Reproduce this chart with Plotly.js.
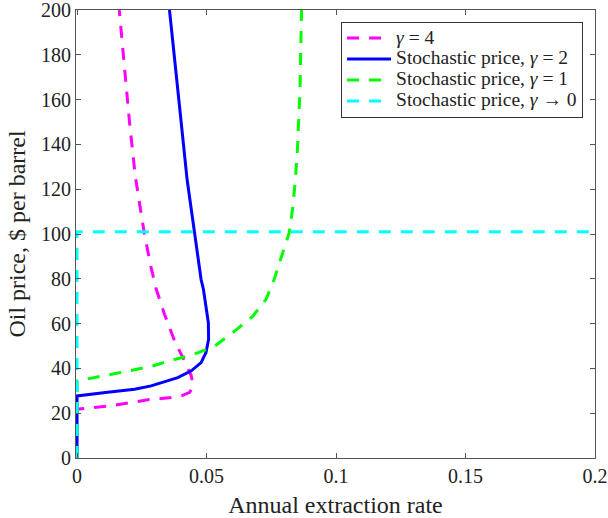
<!DOCTYPE html>
<html>
<head>
<meta charset="utf-8">
<script src="https://cdn.plot.ly/plotly-3.0.1.min.js"></script>
<style>
  html, body { margin: 0; padding: 0; background: #fff; }
  #chart { width: 608px; height: 518px; }
</style>
</head>
<body>
<div id="chart"></div>
<script>
// gamma = 4 (magenta, dashed)
const g4_x = [0, 0, 0.0132, 0.0274, 0.0364, 0.0402, 0.0435, 0.0447, 0.0445, 0.0441, 0.0415, 0.0377, 0.0338, 0.0306, 0.0286, 0.026, 0.0225, 0.0203, 0.0183, 0.0163];
const g4_y = [0, 21.8, 23.3, 26.0, 27.0, 27.7, 29.3, 32.0, 34.5, 36.7, 43.3, 52.2, 64.1, 75.3, 85.0, 100.0, 125.7, 149.5, 174.7, 200];

// Stochastic price, gamma = 2 (blue, solid)
const g2_x = [0, 0, 0.011, 0.0222, 0.0286, 0.0338, 0.0389, 0.0441, 0.0479, 0.0498, 0.0508, 0.0507, 0.0498, 0.0488, 0.0479, 0.0466, 0.0453, 0.0425, 0.0402, 0.0380, 0.0357];
const g2_y = [0, 27.7, 29.2, 30.7, 32.2, 34.0, 35.9, 38.9, 42.6, 47.1, 53.0, 60.4, 67.8, 75.3, 79.7, 90.0, 100.5, 124.3, 150.0, 175.0, 200];

// Stochastic price, gamma = 1 (green, dashed)
const g1_x = [0, 0, 0.0143, 0.0286, 0.0364, 0.0447, 0.053, 0.0607, 0.0678, 0.073, 0.0761, 0.0793, 0.0819, 0.0832, 0.0842, 0.0851, 0.0857, 0.0861, 0.0864, 0.0867];
const g1_y = [0, 34.4, 37.6, 40.9, 43.6, 46.1, 49.8, 56.5, 63.2, 70.9, 79.7, 91.8, 100.5, 110.9, 122.8, 137.6, 152.5, 164.4, 183.6, 200];

// Stochastic price, gamma -> 0 (cyan, dashed)
const g0_x = [0, 0, 0.2];
const g0_y = [0, 101, 101];

const xTickVals = [0, 0.05, 0.1, 0.15, 0.2];
const xTickText = ["0", "0.05", "0.1", "0.15", "0.2"];
const yTickVals = [0, 20, 40, 60, 80, 100, 120, 140, 160, 180, 200];

const LEG = (s) => '<span style="font-size:19.5px">' + s + '</span>';
const names = [
  LEG("<i>γ</i> = 4"),
  LEG("Stochastic price, <i>γ</i> = 2"),
  LEG("Stochastic price, <i>γ</i> = 1"),
  LEG("Stochastic price, <i>γ</i> → 0")
];

const DASH = "12px,10px";
const traces = [
  { x: g4_x, y: g4_y, name: names[0], mode: "lines", line: { color: "#ff00ff", width: 3, dash: DASH } },
  { x: g2_x, y: g2_y, name: names[1], mode: "lines", line: { color: "#0000ff", width: 3 } },
  { x: g1_x, y: g1_y, name: names[2], mode: "lines", line: { color: "#00ff00", width: 3, dash: DASH } },
  { x: g0_x, y: g0_y, name: names[3], mode: "lines", line: { color: "#00ffff", width: 3, dash: DASH } }
];

const FONT = "Liberation Serif";
const axisCommon = {
  showline: true, mirror: "ticks", ticks: "inside", ticklen: 5, tickwidth: 1,
  linecolor: "#555", tickcolor: "#555", linewidth: 1,
  showgrid: false, zeroline: false, ticklabeloverflow: "allow",
  tickfont: { family: FONT, size: 20, color: "#222" }
};

const layout = {
  width: 608, height: 518,
  margin: { l: 76, r: 13, t: 10, b: 60 },
  paper_bgcolor: "#fff", plot_bgcolor: "#fff",
  font: { family: FONT, color: "#222" },
  showlegend: true,
  hovermode: false,
  xaxis: Object.assign({}, axisCommon, {
    range: [-0.0004, 0.2], tickvals: xTickVals, ticktext: xTickText,
    title: { text: "Annual extraction rate", font: { family: FONT, size: 24, color: "#222" }, standoff: 10 }
  }),
  yaxis: Object.assign({}, axisCommon, {
    range: [0, 200], tickvals: yTickVals,
    title: { text: "Oil price, $ per barrel", font: { family: FONT, size: 24, color: "#222" }, standoff: 8 }
  }),
  legend: {
    x: 0.977, y: 0.974, xanchor: "right", yanchor: "top",
    bgcolor: "#fff", bordercolor: "#333", borderwidth: 1,
    font: { family: FONT, size: 13.8, color: "#222" },
    itemwidth: 44, tracegroupgap: 0
  }
};

Plotly.newPlot("chart", traces, layout, { displayModeBar: false, staticPlot: true });
</script>
</body>
</html>
